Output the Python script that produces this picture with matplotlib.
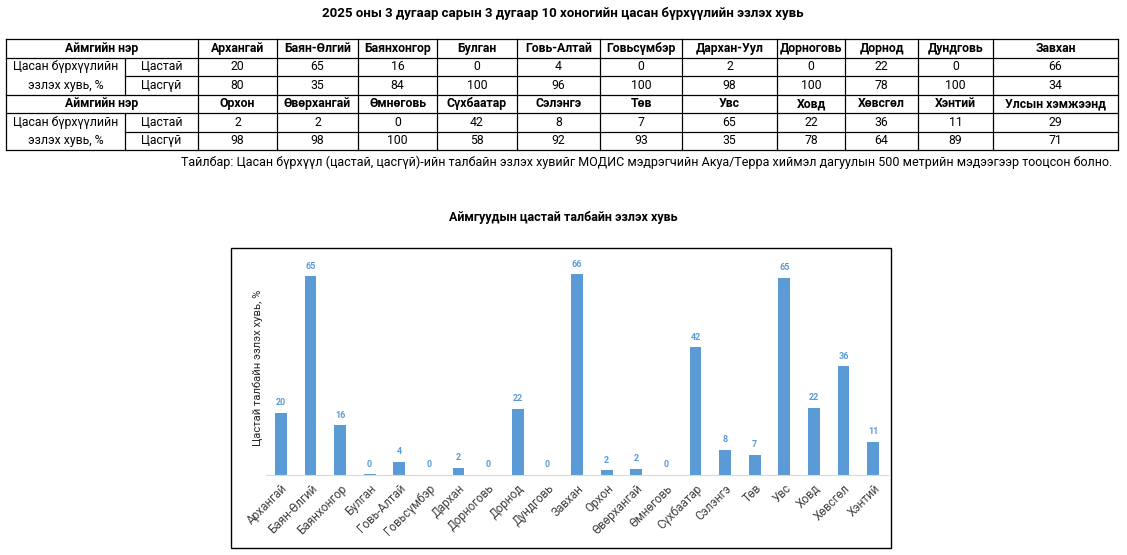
import matplotlib
matplotlib.use("Agg")
import matplotlib.pyplot as plt
from matplotlib.patches import Rectangle

plt.rcParams['font.family'] = ['Roboto', 'DejaVu Sans']

# ---------------- data ----------------
title = "2025 оны 3 дугаар сарын 3 дугаар 10 хоногийн цасан бүрхүүлийн эзлэх хувь"
note = ("Тайлбар: Цасан бүрхүүл (цастай, цасгүй)-ийн талбайн эзлэх хувийг МОДИС мэдрэгчийн "
        "Акуа/Терра хиймэл дагуулын 500 метрийн мэдээгээр тооцсон болно.")

row_header = "Аймгийн нэр"
group_label = ["Цасан бүрхүүлийн", "эзлэх хувь, %"]
sub_labels = ["Цастай", "Цасгүй"]

names_1 = ["Архангай", "Баян-Өлгий", "Баянхонгор", "Булган", "Говь-Алтай", "Говьсүмбэр",
           "Дархан-Уул", "Дорноговь", "Дорнод", "Дундговь", "Завхан"]
snow_1 = [20, 65, 16, 0, 4, 0, 2, 0, 22, 0, 66]
nosnow_1 = [80, 35, 84, 100, 96, 100, 98, 100, 78, 100, 34]

names_2 = ["Орхон", "Өвөрхангай", "Өмнөговь", "Сүхбаатар", "Сэлэнгэ", "Төв", "Увс",
           "Ховд", "Хөвсгөл", "Хэнтий", "Улсын хэмжээнд"]
snow_2 = [2, 2, 0, 42, 8, 7, 65, 22, 36, 11, 29]
nosnow_2 = [98, 98, 100, 58, 92, 93, 35, 78, 64, 89, 71]

chart_title = "Аймгуудын цастай талбайн эзлэх хувь"
chart_ylabel = "Цастай талбайн эзлэх хувь, %"
chart_categories = ["Архангай", "Баян-Өлгий", "Баянхонгор", "Булган", "Говь-Алтай",
                    "Говьсүмбэр", "Дархан", "Дорноговь", "Дорнод", "Дундговь", "Завхан",
                    "Орхон", "Өвөрхангай", "Өмнөговь", "Сүхбаатар", "Сэлэнгэ", "Төв",
                    "Увс", "Ховд", "Хөвсгөл", "Хэнтий"]
chart_values = [20.3, 65.0, 16.3, 0.3, 4.3, 0.0, 2.3, 0.0, 21.6, 0.0, 65.7,
                1.6, 2.0, 0.0, 41.8, 8.2, 6.6, 64.6, 21.9, 35.6, 10.9]

# ---------------- figure ----------------
W, H = 1127, 555
fig = plt.figure(figsize=(W / 100, H / 100), dpi=100)
fig.patch.set_facecolor("white")

# overlay axes in pixel coordinates for table/frames
pa = fig.add_axes([0, 0, 1, 1])
pa.set_xlim(0, W)
pa.set_ylim(H, 0)
pa.axis("off")

pa.text(563, 14, title, ha="center", va="center", fontsize=9.5, fontweight="bold")

# table geometry
col_x = [6, 125, 198, 277, 358, 437, 517, 600, 682, 777, 845, 918, 993, 1118]
row_y = [39, 57.5, 76, 94.5, 113, 131.5, 150]
lw = 0.9
fs_tab = 8.8

# horizontal lines
for i, y in enumerate(row_y):
    if i in (2, 5):
        pa.plot([col_x[1], col_x[-1]], [y, y], color="black", lw=lw)
    else:
        pa.plot([col_x[0], col_x[-1]], [y, y], color="black", lw=lw)
# vertical lines
for j, x in enumerate(col_x):
    if j == 1:
        for (a, b) in ((row_y[1], row_y[3]), (row_y[4], row_y[6])):
            pa.plot([x, x], [a, b], color="black", lw=lw)
    else:
        pa.plot([x, x], [row_y[0], row_y[-1]], color="black", lw=lw)


def cy(r):
    return (row_y[r] + row_y[r + 1]) / 2


for block, (names, s, ns) in enumerate(((names_1, snow_1, nosnow_1),
                                        (names_2, snow_2, nosnow_2))):
    r0 = block * 3
    pa.text((col_x[0] + col_x[2]) / 2, cy(r0), row_header, ha="center", va="center",
            fontsize=fs_tab, fontweight="bold")
    pa.text((col_x[0] + col_x[1]) / 2, cy(r0 + 1), group_label[0], ha="center",
            va="center", fontsize=fs_tab)
    pa.text((col_x[0] + col_x[1]) / 2, cy(r0 + 2), group_label[1], ha="center",
            va="center", fontsize=fs_tab)
    pa.text((col_x[1] + col_x[2]) / 2, cy(r0 + 1), sub_labels[0], ha="center",
            va="center", fontsize=fs_tab)
    pa.text((col_x[1] + col_x[2]) / 2, cy(r0 + 2), sub_labels[1], ha="center",
            va="center", fontsize=fs_tab)
    for k, (nm, a, b) in enumerate(zip(names, s, ns)):
        xc = (col_x[k + 2] + col_x[k + 3]) / 2
        pa.text(xc, cy(r0), nm, ha="center", va="center", fontsize=fs_tab,
                fontweight="bold")
        pa.text(xc, cy(r0 + 1), str(a), ha="center", va="center", fontsize=fs_tab)
        pa.text(xc, cy(r0 + 2), str(b), ha="center", va="center", fontsize=fs_tab)

pa.text(1112, 162, note, ha="right", va="center", fontsize=9.0)

# chart frame
pa.add_patch(Rectangle((231, 248), 660, 300, fill=False, edgecolor="black", lw=1.0))
pa.text(563, 217, chart_title, ha="center", va="center", fontsize=9.0, fontweight="bold")

# ---------------- bar chart ----------------
left, right = 266, 888
bottom, top = 475, 261
ax = fig.add_axes([left / W, 1 - bottom / H, (right - left) / W, (bottom - top) / H])
ax.set_facecolor("none")
bar_color = "#5B9BD5"
xs = range(len(chart_categories))
bars = ax.bar(xs, chart_values, width=0.4, color=bar_color)
ax.set_xlim(-0.5, len(chart_categories) - 0.5)
ax.set_ylim(0, 70)
for b, v in zip(bars, chart_values):
    ax.annotate(f"{v:.0f}", (b.get_x() + b.get_width() / 2, v), xytext=(0, 4),
                textcoords="offset points", ha="center", va="bottom", fontsize=6.5,
                fontweight="bold", color=bar_color)
ax.set_xticks(list(xs))
ax.set_xticklabels(chart_categories, rotation=45, ha="right", rotation_mode="anchor",
                   fontsize=8.5, color="#404040")
ax.tick_params(axis="x", length=0, pad=5)
ax.set_yticks([])
for s in ("top", "right", "left"):
    ax.spines[s].set_visible(False)
ax.spines["bottom"].set_color("#D9D9D9")
ax.set_ylabel(chart_ylabel, fontsize=8.1, color="#262626", labelpad=2)

fig.savefig("out.png", dpi=100, facecolor="white")
